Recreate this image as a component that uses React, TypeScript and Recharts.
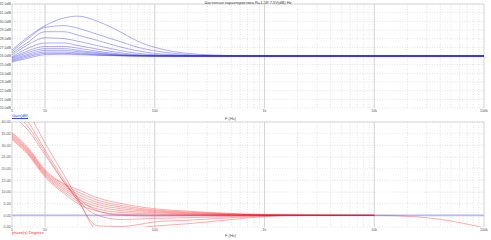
import { LineChart, Line, XAxis, YAxis, CartesianGrid, ReferenceLine } from 'recharts';

// frequency response, top = gain (dB), bottom = phase (deg)
const gainFreq = [5, 7, 10, 15, 20, 30, 50, 70, 100, 150, 200, 300, 500, 1000, 100000];
const gain1 = [26.7, 28.2, 29.5, 30.4, 30.6, 30.0, 28.7, 27.7, 27.0, 26.5, 26.3, 26.15, 26.05, 26.0, 26.0];
const gain2 = [26.5, 28.0, 29.3, 29.5, 29.2, 28.5, 27.6, 27.0, 26.6, 26.3, 26.15, 26.05, 26.0, 26.0, 26.0];
const gain3 = [26.3, 27.6, 28.8, 28.8, 28.4, 27.8, 27.0, 26.6, 26.3, 26.15, 26.05, 26.0, 26.0, 26.0, 26.0];
const gain4 = [26.1, 27.3, 28.1, 28.0, 27.7, 27.2, 26.6, 26.3, 26.15, 26.05, 26.0, 26.0, 26.0, 26.0, 26.0];
const gain5 = [25.9, 26.9, 27.5, 27.5, 27.2, 26.8, 26.35, 26.15, 26.05, 26.0, 26.0, 26.0, 26.0, 26.0, 26.0];
const gain6 = [25.8, 26.6, 27.1, 27.1, 26.9, 26.55, 26.2, 26.08, 26.02, 26.0, 26.0, 26.0, 26.0, 26.0, 26.0];
const gain7 = [25.7, 26.4, 26.85, 26.85, 26.65, 26.4, 26.12, 26.05, 26.0, 26.0, 26.0, 26.0, 26.0, 26.0, 26.0];
const gain8 = [25.6, 26.2, 26.65, 26.65, 26.5, 26.3, 26.08, 26.02, 26.0, 26.0, 26.0, 26.0, 26.0, 26.0, 26.0];
const gain9 = [25.5, 26.05, 26.45, 26.45, 26.35, 26.2, 26.05, 26.0, 26.0, 26.0, 26.0, 26.0, 26.0, 26.0, 26.0];
const gain10 = [25.4, 25.9, 26.3, 26.3, 26.25, 26.12, 26.03, 26.0, 26.0, 26.0, 26.0, 26.0, 26.0, 26.0, 26.0];
const gain11 = [25.3, 25.75, 26.15, 26.2, 26.15, 26.08, 26.02, 26.0, 26.0, 26.0, 26.0, 26.0, 26.0, 26.0, 26.0];

const phaseFreq = [5, 7, 10, 15, 20, 30, 50, 100, 200, 500, 1000, 2000, 5000, 10000, 20000, 50000, 100000];
const phase1 = [52, 44, 31, 17, 7, -6, -6, -4.6, -3.6, -1.8, -0.5, -0.1, 0, 0, -0.4, -2.4, -5.4];
const phase2 = [47, 40, 28, 15, 6, -4.5, -4.8, -2.8, -2.1, -1.0, -0.3, 0, 0, 0, null, null, null];
const phase3 = [45, 38, 27, 14, 6.5, 0, -1.8, -1.3, -1.0, -0.5, -0.1, 0, 0, 0, null, null, null];
const phase4 = [43, 36.5, 26, 14, 7.5, 2, 0, -0.3, -0.2, -0.1, 0, 0, 0, 0, null, null, null];
const phase5 = [35.5, 29, 19.5, 13.5, 11, 7.5, 5, 2.8, 1.8, 0.8, 0.3, 0.1, 0, 0, null, null, null];
const phase6 = [35, 28.5, 19, 13, 10, 6.5, 4.2, 2.3, 1.4, 0.6, 0.2, 0.1, 0, 0, null, null, null];
const phase7 = [34.5, 28, 18.5, 12.3, 9, 5.6, 3.5, 1.9, 1.1, 0.45, 0.15, 0.05, 0, 0, null, null, null];
const phase8 = [34, 27.5, 18, 11.5, 8, 4.7, 2.8, 1.5, 0.8, 0.3, 0.1, 0, 0, 0, null, null, null];
const phase9 = [33.5, 27, 17.5, 10.8, 7, 3.8, 2, 1.1, 0.5, 0.2, 0.05, 0, 0, 0, null, null, null];
const phase10 = [33, 26.5, 17, 10, 6, 2.8, 1.2, 0.6, 0.25, 0.1, 0, 0, 0, null, null, null, null];
const phase11 = [32.5, 26, 16.5, 9.2, 5, 1.8, 0.4, 0.1, 0, 0, 0, 0, null, null, null, null, null];

const majorTicks = [5, 10, 100, 1000, 10000, 100000];
const gainTicks = [20, 21, 22, 23, 24, 25, 26, 27, 28, 29, 30, 31, 32];
const phaseTicks = [-5, 0, 5, 10, 15, 20, 25, 30, 35, 40];

const gainSeries = [gain1, gain2, gain3, gain4, gain5, gain6, gain7, gain8, gain9, gain10, gain11];
const phaseSeries = [phase1, phase2, phase3, phase4, phase5, phase6, phase7, phase8, phase9, phase10, phase11];

const gainRows = gainFreq.map((f, i) => {
  const row: Record<string, number | null> = { f };
  gainSeries.forEach((s, k) => (row[`s${k}`] = s[i]));
  return row;
});
const phaseRows = phaseFreq.map((f, i) => {
  const row: Record<string, number | null> = { f };
  phaseSeries.forEach((s, k) => (row[`s${k}`] = s[i]));
  return row;
});

// log grid: 5..9, then 10..90, 100..900 etc
const gridTicks: number[] = [5, 6, 7, 8, 9];
for (let d = 10; d <= 10000; d *= 10) for (let m = 1; m <= 9; m++) gridTicks.push(m * d);
gridTicks.push(100000);

const fmtHz = (v: number) => {
  if (!majorTicks.includes(v)) return '';
  if (v >= 1000) return `${v / 1000}k`;
  return `${v}`;
};

const FONT = '"Liberation Sans", Arial, sans-serif';
const tickStyle = { fontSize: 3.6, fill: '#555', fontFamily: FONT };

const txt = (left: number, top: number, text: string, color: string, extra = {}) => (
  <div
    style={{
      position: 'absolute',
      left,
      top,
      fontSize: 4,
      lineHeight: '5px',
      color,
      fontFamily: FONT,
      whiteSpace: 'nowrap',
      ...extra,
    }}
  >
    {text}
  </div>
);

const Panel = ({ rows, series, domain, yTicks, unit, color, height, bottom, zeroLine }: any) => (
  <LineChart width={491} height={height} data={rows} margin={{ top: 4, right: 7, bottom, left: 0 }}>
    <CartesianGrid stroke="#d4d4d4" strokeDasharray="1 1.5" strokeWidth={0.6} />
    {majorTicks.map((t) => (
      <ReferenceLine key={t} x={t} stroke="#c8c8c8" strokeWidth={0.7} />
    ))}
    <ReferenceLine y={domain[1]} stroke="#c8c8c8" strokeWidth={0.7} />
    <XAxis
      dataKey="f"
      type="number"
      scale="log"
      domain={[5, 100000]}
      allowDataOverflow
      ticks={gridTicks}
      interval={0}
      tickFormatter={fmtHz}
      tick={tickStyle}
      tickLine={false}
      axisLine={false}
      tickSize={0}
      tickMargin={1}
      height={8}
    />
    <YAxis
      type="number"
      domain={domain}
      allowDataOverflow
      ticks={yTicks}
      interval={0}
      tickFormatter={(v: number) => `${v.toFixed(1)}${unit}`}
      tick={tickStyle}
      tickLine={false}
      axisLine={false}
      tickSize={0}
      tickMargin={1}
      width={12}
    />
    {zeroLine && <ReferenceLine y={0} stroke="#b4b8f6" strokeWidth={1.6} />}
    {series.map((_: number[], k: number) => (
      <Line
        key={k}
        type="monotone"
        dataKey={`s${k}`}
        stroke={color}
        strokeWidth={0.7}
        dot={false}
        isAnimationActive={false}
      />
    ))}
  </LineChart>
);

export default function App() {
  return (
    <div style={{ position: 'absolute', left: 0, top: 0, width: 491, height: 240, background: '#fff', overflow: 'hidden' }}>
      <div style={{ position: 'absolute', left: 0, top: 0 }}>
        <Panel rows={gainRows} series={gainSeries} domain={[20, 32]} yTicks={gainTicks} unit="dB" color="rgba(40,40,235,0.55)" height={120} bottom={4} />
      </div>
      <div style={{ position: 'absolute', left: 0, top: 118 }}>
        <Panel rows={phaseRows} series={phaseSeries} domain={[-5, 40]} yTicks={phaseTicks} unit="D" color="rgba(255,20,20,0.5)" height={122} bottom={5} zeroLine />
      </div>
      {txt(12, 0, 'Частотная характеристика R=1.5R 7.5V(dB)  Hz', '#444', { width: 472, textAlign: 'center' })}
      {txt(225, 115.5, 'F (Hz)', '#555')}
      {txt(225, 233, 'F (Hz)', '#555')}
      {txt(12, 113, 'Gain(dB)', '#3347ff', { textDecoration: 'underline' })}
      {txt(12, 230, 'phase(s) Degrees', '#ff2a2a')}
    </div>
  );
}
